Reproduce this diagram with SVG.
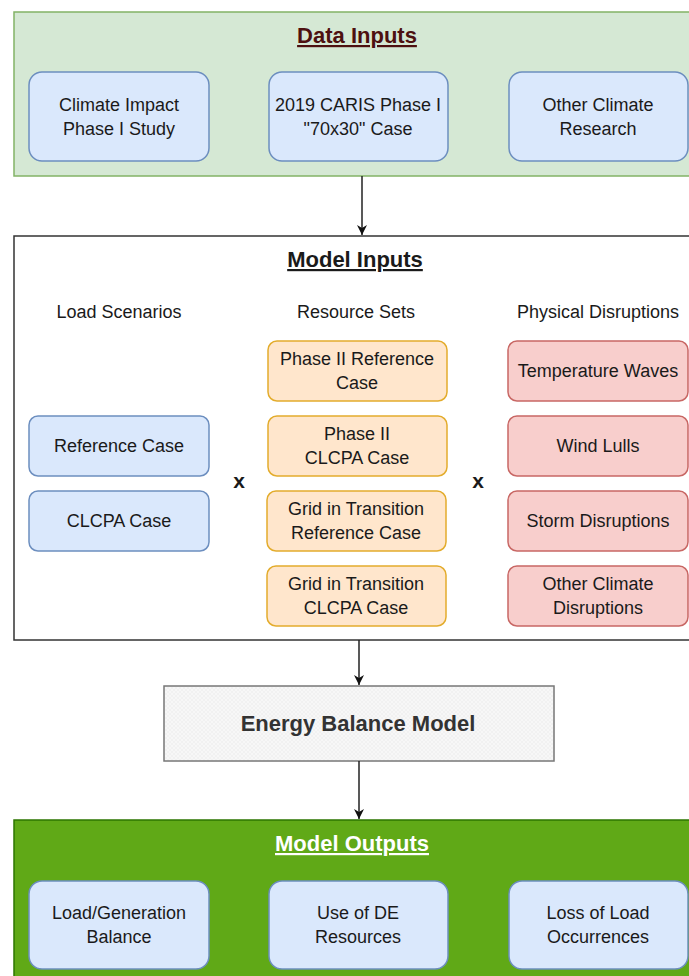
<svg xmlns="http://www.w3.org/2000/svg" width="689" height="976" viewBox="0 0 689 976">
<style>
  text { font-family: "Liberation Sans", Arial, sans-serif; text-anchor: middle; fill: #1a1a1a; }
  .box { font-size: 18px; }
  .hdr { font-size: 18px; }
  .title { font-size: 22px; font-weight: bold; text-decoration: underline; }
  .blue { fill: #dae8fc; stroke: #6c8ebf; stroke-width: 1.5; }
  .orange { fill: #ffe6cc; stroke: #e3ac2c; stroke-width: 1.5; }
  .red { fill: #f8cecc; stroke: #c86764; stroke-width: 1.5; }
  .conn { stroke: #222; stroke-width: 1.5; fill: none; marker-end: url(#arr); }
  .x { font-size: 21px; font-weight: bold; }
</style>
<defs>
  <marker id="arr" viewBox="0 0 10 10" refX="10" refY="5" markerWidth="10" markerHeight="10" orient="auto" markerUnits="userSpaceOnUse">
    <path d="M0,0 L10,5 L0,10 L3,5 z" fill="#111"/>
  </marker>
  <pattern id="hatch" width="4" height="4" patternUnits="userSpaceOnUse">
    <rect width="4" height="4" fill="#f7f7f7"/>
    <path d="M0,4 L4,0" stroke="#ebebeb" stroke-width="0.5"/>
    <path d="M0,0 L4,4" stroke="#ebebeb" stroke-width="0.5"/>
  </pattern>
</defs>

<g id="data-inputs">
  <rect x="14" y="12" width="690" height="164" fill="#d5e8d4" stroke="#82b366" stroke-width="1.5"/>
  <text class="title" x="357" y="43" style="fill:#4d1010">Data Inputs</text>
</g>
<g id="di-climate-impact">
  <rect class="blue" x="29" y="72" width="180" height="89" rx="13"/>
  <text class="box" x="119" y="111">Climate Impact</text>
  <text class="box" x="119" y="135">Phase I Study</text>
</g>
<g id="di-caris">
  <rect class="blue" x="269" y="72" width="179" height="89" rx="13"/>
  <text class="box" x="358" y="111">2019 CARIS Phase I</text>
  <text class="box" x="358" y="135">"70x30" Case</text>
</g>
<g id="di-other">
  <rect class="blue" x="509" y="72" width="179" height="89" rx="13"/>
  <text class="box" x="598" y="111">Other Climate</text>
  <text class="box" x="598" y="135">Research</text>
</g>

<g id="model-inputs">
  <rect x="14" y="236" width="690" height="404" fill="#ffffff" stroke="#333" stroke-width="1.5"/>
  <text class="title" x="355" y="267" style="font-weight:bold">Model Inputs</text>
  <text class="hdr" x="119" y="318">Load Scenarios</text>
  <text class="hdr" x="356" y="318">Resource Sets</text>
  <text class="hdr" x="598" y="318">Physical Disruptions</text>
  <text class="x" x="239" y="488">x</text>
  <text class="x" x="478" y="488">x</text>
</g>

<g id="load-reference">
  <rect class="blue" x="29" y="416" width="180" height="60" rx="9"/>
  <text class="box" x="119" y="452">Reference Case</text>
</g>
<g id="load-clcpa">
  <rect class="blue" x="29" y="491" width="180" height="60" rx="9"/>
  <text class="box" x="119" y="527">CLCPA Case</text>
</g>

<g id="res-phase2-ref">
  <rect class="orange" x="268" y="341" width="179" height="60" rx="9"/>
  <text class="box" x="357" y="365">Phase II Reference</text>
  <text class="box" x="357" y="389">Case</text>
</g>
<g id="res-phase2-clcpa">
  <rect class="orange" x="268" y="416" width="179" height="60" rx="9"/>
  <text class="box" x="357" y="440">Phase II</text>
  <text class="box" x="357" y="464">CLCPA Case</text>
</g>
<g id="res-git-ref">
  <rect class="orange" x="267" y="491" width="179" height="60" rx="9"/>
  <text class="box" x="356" y="515">Grid in Transition</text>
  <text class="box" x="356" y="539">Reference Case</text>
</g>
<g id="res-git-clcpa">
  <rect class="orange" x="267" y="566" width="179" height="60" rx="9"/>
  <text class="box" x="356" y="590">Grid in Transition</text>
  <text class="box" x="356" y="614">CLCPA Case</text>
</g>

<g id="dis-temperature">
  <rect class="red" x="508" y="341" width="180" height="60" rx="9"/>
  <text class="box" x="598" y="377">Temperature Waves</text>
</g>
<g id="dis-wind">
  <rect class="red" x="508" y="416" width="180" height="60" rx="9"/>
  <text class="box" x="598" y="452">Wind Lulls</text>
</g>
<g id="dis-storm">
  <rect class="red" x="508" y="491" width="180" height="60" rx="9"/>
  <text class="box" x="598" y="527">Storm Disruptions</text>
</g>
<g id="dis-other">
  <rect class="red" x="508" y="566" width="180" height="60" rx="9"/>
  <text class="box" x="598" y="590">Other Climate</text>
  <text class="box" x="598" y="614">Disruptions</text>
</g>

<g id="energy-balance-model">
  <rect x="164" y="686" width="390" height="75" fill="url(#hatch)" stroke="#777" stroke-width="1.5"/>
  <text x="358" y="731" style="font-size:22px;font-weight:bold;fill:#333">Energy Balance Model</text>
</g>

<g id="model-outputs">
  <rect x="14" y="820" width="690" height="170" fill="#60a917" stroke="#2d7600" stroke-width="1.5"/>
  <text class="title" x="352" y="851" style="fill:#ffffff">Model Outputs</text>
</g>
<g id="mo-load-gen">
  <rect class="blue" x="29" y="881" width="180" height="88" rx="13"/>
  <text class="box" x="119" y="919">Load/Generation</text>
  <text class="box" x="119" y="943">Balance</text>
</g>
<g id="mo-de">
  <rect class="blue" x="269" y="881" width="179" height="88" rx="13"/>
  <text class="box" x="358" y="919">Use of DE</text>
  <text class="box" x="358" y="943">Resources</text>
</g>
<g id="mo-lol">
  <rect class="blue" x="509" y="881" width="179" height="88" rx="13"/>
  <text class="box" x="598" y="919">Loss of Load</text>
  <text class="box" x="598" y="943">Occurrences</text>
</g>

<g id="connectors">
  <line class="conn" x1="362" y1="176" x2="362" y2="235"/>
  <line class="conn" x1="359" y1="640" x2="359" y2="685"/>
  <line class="conn" x1="359" y1="761" x2="359" y2="819"/>
</g>
</svg>
